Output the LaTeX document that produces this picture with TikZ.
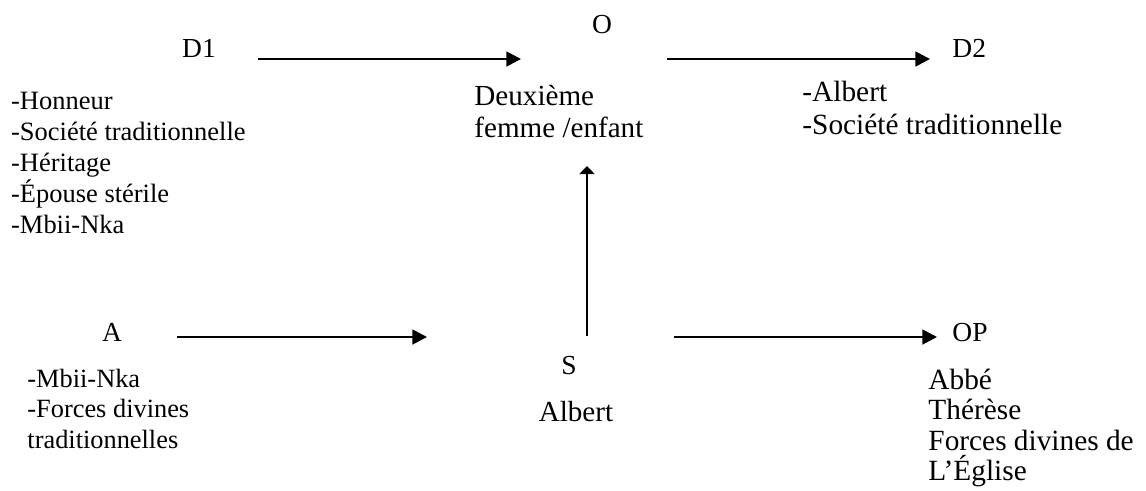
\documentclass[tikz,border=0pt]{standalone}
\usepackage{fontspec}
\setmainfont{Liberation Serif}
\usetikzlibrary{arrows.meta}
\begin{document}
\begin{tikzpicture}[x=0.43636pt, y=-0.43636pt,
  lbl/.style={inner sep=0pt, font=\fontsize{12pt}{13.53pt}\selectfont},
  lst/.style 2 args={inner sep=0pt, anchor=north west, align=left, font=\fontsize{#1}{#2}\selectfont},
  conn/.style={line width=0.9pt, -{Triangle[length=6.4pt,width=6.5pt]}},
  connup/.style={line width=0.9pt, -{Triangle[length=3.5pt,width=6.5pt]}}]
\useasboundingbox (0,0) rectangle (1146,490);
% headers
\node[lbl, anchor=base] (D1) at (199,57) {D1};
\node[lbl, anchor=base] (O) at (602,33) {O};
\node[lbl, anchor=base west] (D2) at (952,57) {D2};
\node[lbl, anchor=base] (A) at (112,341) {A};
\node[lbl, anchor=base] (S) at (569,374) {S};
\node[lbl, anchor=base west] (OP) at (952,341) {OP};
% contents
\node[lbl, anchor=base, font=\fontsize{12.7pt}{14pt}\selectfont] (Salb) at (576,421) {Albert};
\node[lst={12.7pt}{13.96pt}] (Oc) at (474,82.6) {\strut Deuxième\\femme /enfant};
\node[lst={11.55pt}{13.53pt}] (D1c) at (10.7,87.3) {\strut -Honneur\\-Société traditionnelle\\-Héritage\\-Épouse stérile\\-Mbii-Nka};
\node[lst={12.8pt}{14.6pt}] (D2c) at (802,77.4) {\strut -Albert\\-Société traditionnelle};
\node[lst={11.5pt}{13.3pt}] (Ac) at (27,365.6) {\strut -Mbii-Nka\\-Forces divines\\traditionnelles};
\node[lst={12.8pt}{13.3pt}] (OPc) at (928,367.6) {\strut Abbé\\Thérèse\\Forces divines de\\L’Église};
% connector ends
\coordinate (d1s) at (258,59);
\coordinate (d1e) at (521,59);
\coordinate (d2s) at (667,59);
\coordinate (d2e) at (930,59);
\coordinate (as) at (177,337);
\coordinate (ae) at (427,337);
\coordinate (ops) at (674,337);
\coordinate (ope) at (937,337);
\coordinate (ss) at (587,336);
\coordinate (se) at (587,166);
\draw[conn] (d1s) -- (d1e);
\draw[conn] (d2s) -- (d2e);
\draw[conn] (as) -- (ae);
\draw[conn] (ops) -- (ope);
\draw[connup] (ss) -- (se);
\end{tikzpicture}
\end{document}
